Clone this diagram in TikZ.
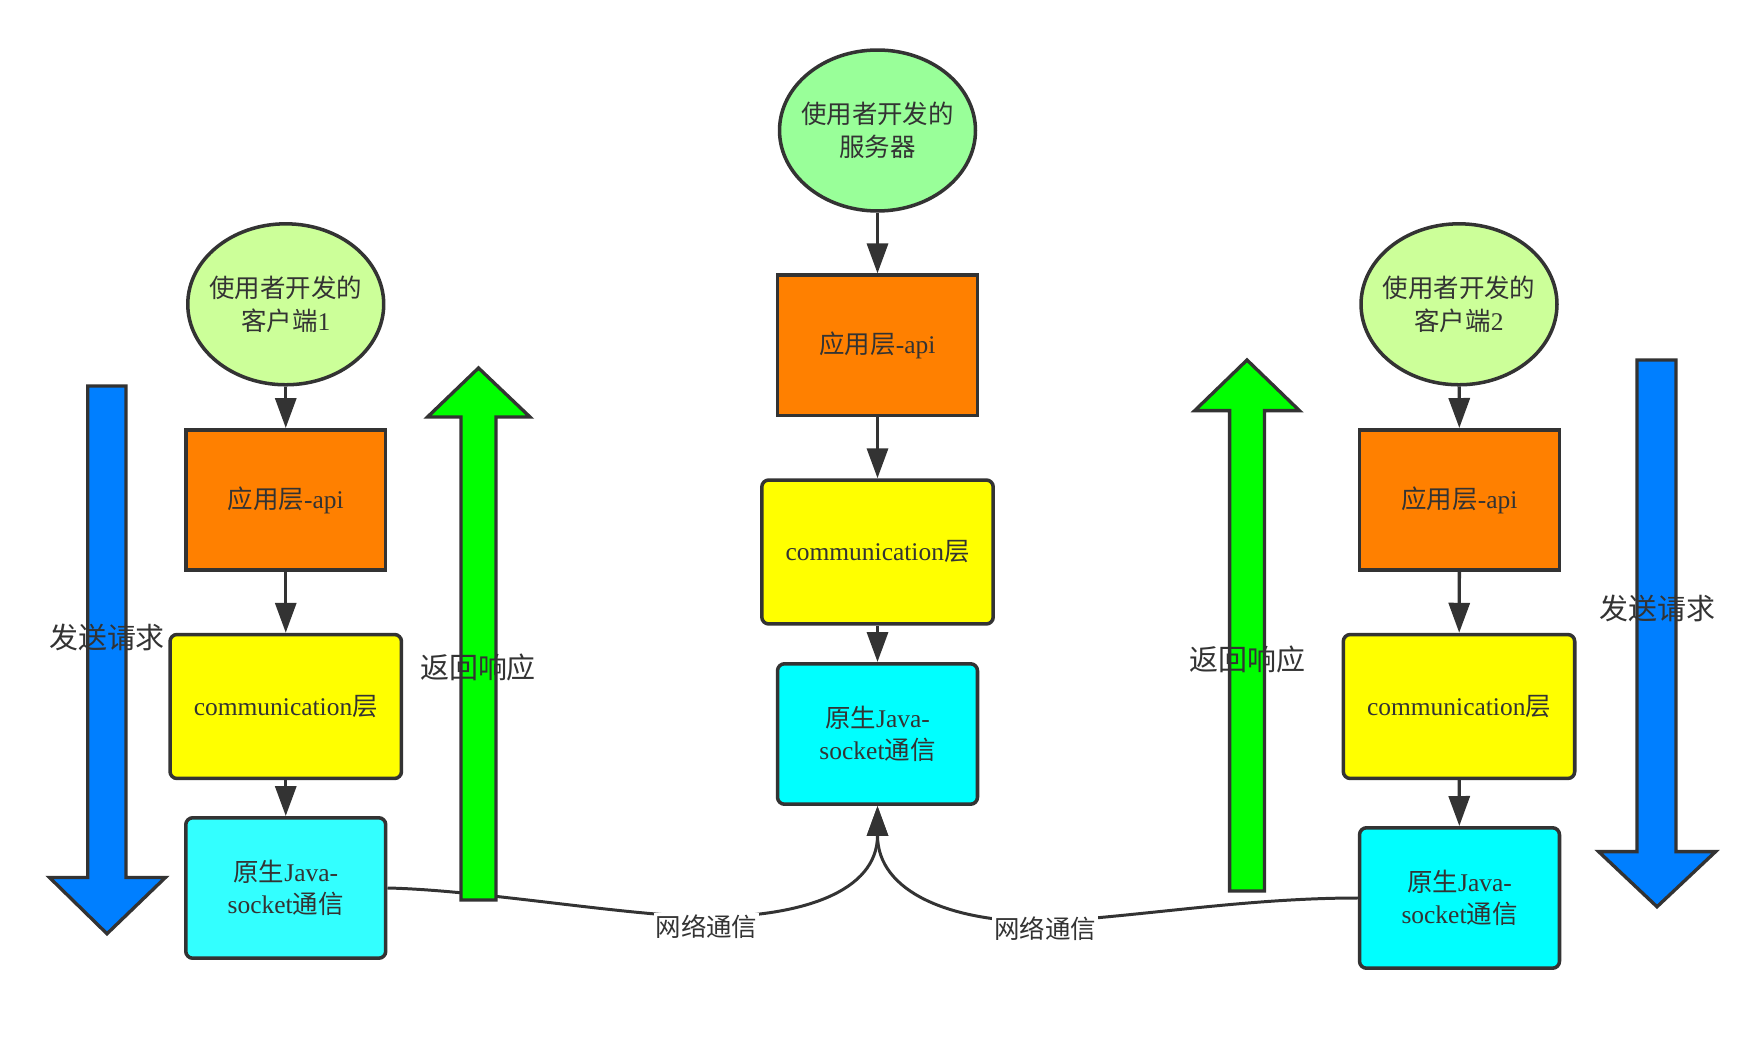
\documentclass[tikz,border=0pt]{standalone}
\usepackage{fontspec}
\setmainfont{Liberation Serif}
\newfontfamily\cjk{Noto Sans CJK SC}
\usepackage{xcolor}
\usepackage{tikz}
\usetikzlibrary{positioning,arrows.meta,shapes.geometric}

\definecolor{dk}{HTML}{333333}
\definecolor{cliGreen}{HTML}{CCFF99}
\definecolor{srvGreen}{HTML}{99FF99}
\definecolor{apiOrange}{HTML}{FF8000}
\definecolor{commYellow}{HTML}{FFFF00}
\definecolor{sockCyan}{HTML}{00FFFF}
\definecolor{sockCyanLt}{HTML}{33FFFF}
\definecolor{reqBlue}{HTML}{007FFF}
\definecolor{respGreen}{HTML}{00FF00}

\begin{document}
\begin{tikzpicture}[
    x=0.02cm, y=-0.02cm,
    every node/.style={font=\fontsize{14.5}{18.5}\selectfont, text=dk},
    user/.style={ellipse, draw=dk, line width=2pt, inner xsep=-0.17cm, inner ysep=0pt,
                 minimum width=3.92cm, minimum height=3.22cm, align=center},
    api/.style={draw=dk, line width=2pt, fill=apiOrange,
                minimum width=4cm, minimum height=2.81cm},
    comm/.style={draw=dk, line width=2pt, fill=commYellow, rounded corners=4pt,
                 minimum width=4.63cm, minimum height=2.88cm},
    sock/.style={draw=dk, line width=2pt, fill=sockCyan, rounded corners=4pt,
                 minimum width=4cm, minimum height=2.81cm, align=center},
    flow/.style={dk, line width=1.9pt, -{Triangle[length=0.6cm, width=0.42cm]}},
    net/.style={dk, line width=1.7pt, -{Triangle[length=0.6cm, width=0.42cm]}},
    netlabel/.style={fill=white, inner sep=1pt, font=\cjk\fontsize{14.5}{18.5}\selectfont},
    bigarrow/.style={draw=dk, line width=1.9pt},
    biglabel/.style={font=\cjk\fontsize{16.5}{20}\selectfont},
]
\useasboundingbox (0,0) rectangle (1764,1053);

% Client 1 (left column)
\node[user, fill=cliGreen] (cli1_user) at (285.75,304.3) {{\cjk 使用者开发的}\\{\cjk 客户端}1};
\node[api] (cli1_api) at (285.75,500) {{\cjk 应用层}-api};
\node[comm] (cli1_comm) at (285.75,706.5) {communication{\cjk 层}};
\node[sock, fill=sockCyanLt] (cli1_sock) at (285.75,888) {{\cjk 原生}Java-\\socket{\cjk 通信}};

% Server (centre column)
\node[user, fill=srvGreen] (srv_user) at (877.5,130.5) {{\cjk 使用者开发的}\\{\cjk 服务器}};
\node[api] (srv_api) at (877.5,345.4) {{\cjk 应用层}-api};
\node[comm] (srv_comm) at (877.5,552) {communication{\cjk 层}};
\node[sock] (srv_sock) at (877.5,734) {{\cjk 原生}Java-\\socket{\cjk 通信}};

% Client 2 (right column)
\node[user, fill=cliGreen] (cli2_user) at (1459,304.3) {{\cjk 使用者开发的}\\{\cjk 客户端}2};
\node[api] (cli2_api) at (1459.5,500) {{\cjk 应用层}-api};
\node[comm] (cli2_comm) at (1459,706.5) {communication{\cjk 层}};
\node[sock] (cli2_sock) at (1459.5,898) {{\cjk 原生}Java-\\socket{\cjk 通信}};

% Layer flow
\draw[flow] (cli1_user) -- (cli1_api);
\draw[flow] (cli1_api) -- (cli1_comm);
\draw[flow] (cli1_comm) -- (cli1_sock);
\draw[flow] (srv_user) -- (srv_api);
\draw[flow] (srv_api) -- (srv_comm);
\draw[flow] (srv_comm) -- (srv_sock);
\draw[flow] (cli2_user) -- (cli2_api);
\draw[flow] (cli2_api) -- (cli2_comm);
\draw[flow] (cli2_comm) -- (cli2_sock);

% Network links into the server socket
\coordinate (net_l) at (706,917);
\coordinate (net_r) at (1045,922);
\draw[net] (cli1_sock.east) .. controls (480,890) and (620,915) .. (net_l)
    .. controls +(95,0) and +(0,86) .. (srv_sock.south);
\draw[net] (cli2_sock.west) .. controls (1250,898) and (1150,915) .. (net_r)
    .. controls +(-95,0) and +(0,86) .. (srv_sock.south);
\node[netlabel] (net_l_txt) at (706.5,927) {网络通信};
\node[netlabel] (net_r_txt) at (1045,929) {网络通信};

% Big request / response arrows
\draw[bigarrow, fill=reqBlue] (87.75,386) -- (126,386) -- (126,877.5) -- (165.4,877.5)
    -- (107,933.75) -- (49.5,877.5) -- (87.75,877.5) -- cycle;
\draw[bigarrow, fill=respGreen] (461,900) -- (496,900) -- (496,417) -- (530,417)
    -- (478.5,368) -- (427.5,417) -- (461,417) -- cycle;
\draw[bigarrow, fill=respGreen] (1229.6,891) -- (1264.5,891) -- (1264.5,410.6) -- (1299.4,410.6)
    -- (1247,360) -- (1194.75,410.6) -- (1229.6,410.6) -- cycle;
\draw[bigarrow, fill=reqBlue] (1637,360) -- (1676,360) -- (1676,851.6) -- (1715.6,851.6)
    -- (1657,906.75) -- (1598.6,851.6) -- (1637,851.6) -- cycle;

\node[biglabel] (req_l) at (107,637) {发送请求};
\node[biglabel] (resp_l) at (478,667) {返回响应};
\node[biglabel] (resp_r) at (1247,659) {返回响应};
\node[biglabel] (req_r) at (1657,608.6) {发送请求};

\end{tikzpicture}
\end{document}
